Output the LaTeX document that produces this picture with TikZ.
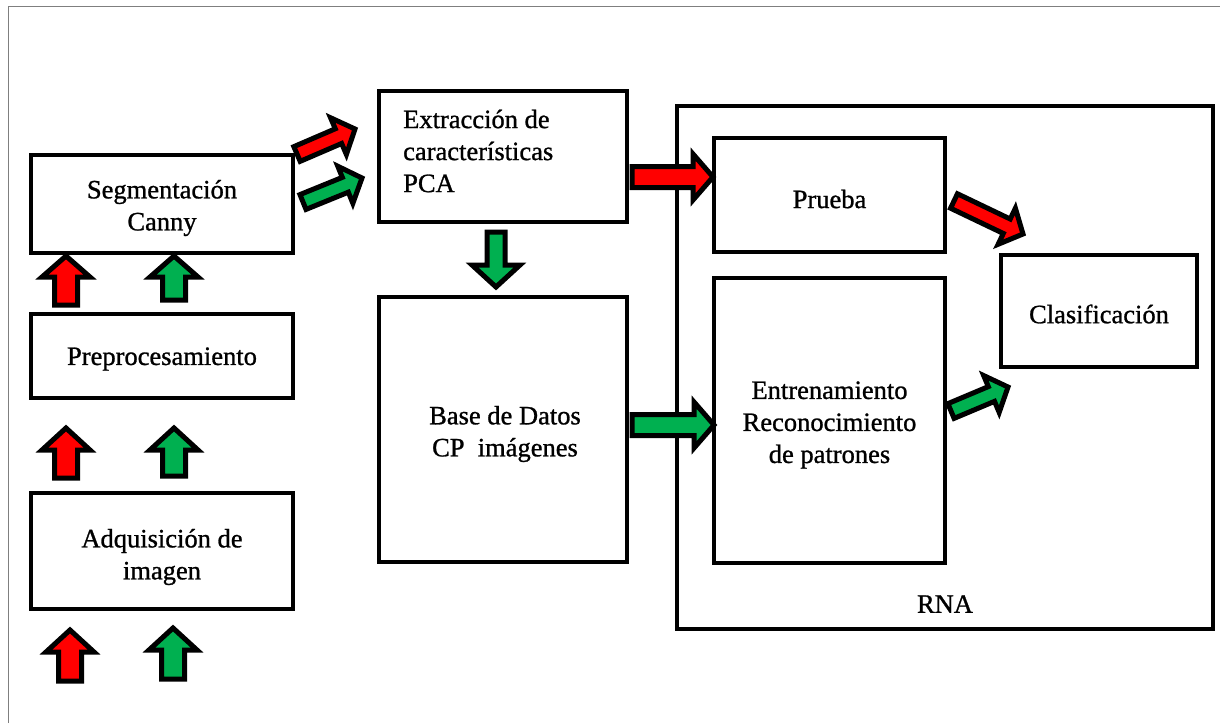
\documentclass[tikz,border=0pt]{standalone}
\usepackage{fontspec}
\setmainfont{Liberation Serif}[FakeBold=1]
\newfontfamily\diagfont{Liberation Serif}[FakeBold=1]
\usetikzlibrary{calc}
\definecolor{arrred}{HTML}{FF0000}
\definecolor{arrgreen}{HTML}{00B050}
\definecolor{framegray}{HTML}{7F7F7F}
% #1 tail coordinate, #2 tip coordinate, #3 fill colour, #4 head length, #5 head half width, #6 shaft half width
\newcommand\blockarrow[6]{%
  \coordinate (ba-c) at ($(#2)!#4!(#1)$);
  \draw[arrowline, fill=#3]
    ($(#1)!#6!90:(#2)$) -- ($(ba-c)!#6!-90:(#1)$) -- ($(ba-c)!#5!-90:(#1)$) -- (#2)
    -- ($(ba-c)!#5!90:(#1)$) -- ($(ba-c)!#6!90:(#1)$) -- ($(#1)!#6!-90:(#2)$) -- cycle;
}
\begin{document}
\begin{tikzpicture}[x=1pt,y=-1pt,
  box/.style={draw=black, line width=4.3pt, rectangle, inner sep=0pt},
  lbl/.style={inner sep=0pt, font=\diagfont\fontsize{26.5}{32}\selectfont, align=center},
  arrowline/.style={draw=black, line width=5pt, line join=miter, miter limit=10}]
\useasboundingbox (0,0) rectangle (1220,723);
\draw[framegray, line width=1pt] (8,723) -- (8,6) -- (1220,6);

% boxes
\node[box, minimum width=262pt, minimum height=98pt] (seg) at (162,204) {};
\node[box, minimum width=262pt, minimum height=84pt] (pre) at (162,356) {};
\node[box, minimum width=262pt, minimum height=116pt] (adq) at (162,551) {};
\node[box, minimum width=248pt, minimum height=131pt] (ext) at (503,156.5) {};
\node[box, minimum width=248pt, minimum height=265pt] (base) at (503,429.5) {};
\node[box, minimum width=536pt, minimum height=523pt] (rna) at (945,367.5) {};
\node[box, minimum width=231pt, minimum height=114pt] (prueba) at (829.5,195) {};
\node[box, minimum width=231pt, minimum height=285pt] (entr) at (829.5,420.5) {};
\node[box, minimum width=196pt, minimum height=112pt] (clas) at (1099,311) {};

% texts
\node[lbl] (segtxt) at (162,208) {Segmentación\\Canny};
\node[lbl] (pretxt) at (162,359) {Preprocesamiento};
\node[lbl] (adqtxt) at (162,557) {Adquisición de\\imagen};
\node[lbl, anchor=west, align=left] (exttxt) at (403,151) {Extracción de\\características\\PCA};
\node[lbl] (basetxt) at (505,434) {Base de Datos\\CP~~imágenes};
\node[lbl] (rnatxt) at (945,604) {RNA};
\node[lbl] (pruebatxt) at (829.5,199) {Prueba};
\node[lbl] (entrtxt) at (829.5,425) {Entrenamiento\\Reconocimiento\\de patrones};
\node[lbl] (clastxt) at (1099,314) {Clasificación};

% arrow end points
\coordinate (r1a) at (66,305);  \coordinate (r1b) at (66,256);
\coordinate (g1a) at (174,300); \coordinate (g1b) at (174,256);
\coordinate (r2a) at (66,478);  \coordinate (r2b) at (66,428);
\coordinate (g2a) at (174,476); \coordinate (g2b) at (174,428);
\coordinate (r3a) at (70,681);  \coordinate (r3b) at (70,630);
\coordinate (g3a) at (173,679); \coordinate (g3b) at (173,628);
\coordinate (dga) at (496,232); \coordinate (dgb) at (496,287);
\coordinate (rra) at (632,177); \coordinate (rrb) at (713,177);
\coordinate (rga) at (632,425); \coordinate (rgb) at (714,425);
\coordinate (d1a) at (297,154); \coordinate (d1b) at (355,129);
\coordinate (d2a) at (303,202); \coordinate (d2b) at (362,178);
\coordinate (d3a) at (954,201); \coordinate (d3b) at (1023,234);
\coordinate (d4a) at (951,411); \coordinate (d4b) at (1008,387);

% arrows
\blockarrow{r1a}{r1b}{arrred}{21pt}{24pt}{11.5pt}
\blockarrow{g1a}{g1b}{arrgreen}{21pt}{24pt}{11.5pt}
\blockarrow{r2a}{r2b}{arrred}{22pt}{24pt}{11.5pt}
\blockarrow{g2a}{g2b}{arrgreen}{22pt}{24pt}{11.5pt}
\blockarrow{r3a}{r3b}{arrred}{22pt}{24pt}{11.5pt}
\blockarrow{g3a}{g3b}{arrgreen}{22pt}{24pt}{11.5pt}
\blockarrow{dga}{dgb}{arrgreen}{22pt}{24pt}{9pt}
\blockarrow{rra}{rrb}{arrred}{20pt}{23pt}{10.5pt}
\blockarrow{rga}{rgb}{arrgreen}{20pt}{23pt}{10.5pt}
\blockarrow{d1a}{d1b}{arrred}{18pt}{20pt}{8pt}
\blockarrow{d2a}{d2b}{arrgreen}{18pt}{20pt}{8pt}
\blockarrow{d3a}{d3b}{arrred}{18pt}{20pt}{8pt}
\blockarrow{d4a}{d4b}{arrgreen}{18pt}{20pt}{8pt}
\end{tikzpicture}
\end{document}
